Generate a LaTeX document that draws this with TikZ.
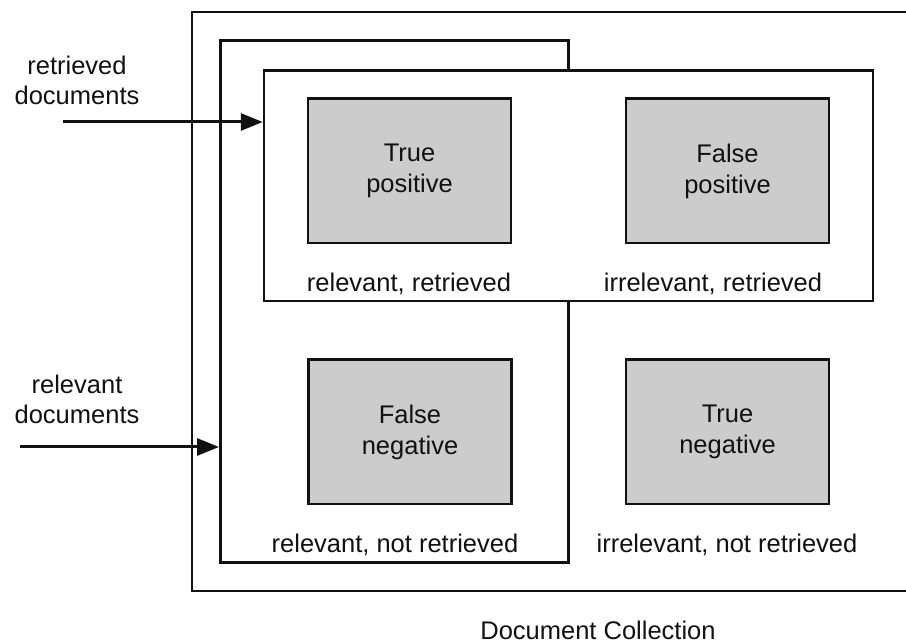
\documentclass[tikz,border=0pt]{standalone}
\usepackage{fontspec}
\setmainfont{Liberation Sans}
\usetikzlibrary{arrows.meta}
\definecolor{ink}{HTML}{111111}
\definecolor{cellgray}{HTML}{CCCCCC}
\begin{document}
\begin{tikzpicture}[x=1pt,y=-1pt,
  lbl/.style={font=\fontsize{25.5}{30}\selectfont, text=ink, inner sep=0pt, align=center},
  frame/.style={draw=ink, fill=white, rectangle, inner sep=0pt},
  cell/.style={draw=ink, fill=cellgray, line width=2.5pt, inner sep=0pt,
    minimum width=203pt, minimum height=144.5pt,
    font=\fontsize{25.5}{31}\selectfont, align=center, text=ink},
  arr/.style={draw=ink, line width=3pt, -{Triangle[length=22pt,width=17pt]}}
]
\useasboundingbox (0,0) rectangle (906,644);
\clip (0,0) rectangle (906,644);
% frames
\node[frame, line width=2pt, minimum width=740pt, minimum height=579pt] (coll) at (562,301.5) {};
\node[frame, line width=3pt, minimum width=347.5pt, minimum height=521pt] (rel) at (394.25,301.5) {};
\node[frame, line width=2.5pt, minimum width=609pt, minimum height=230.5pt] (ret) at (568.5,185.75) {};
% cells
\node[cell] (tp) at (409.5,171) {True\\positive};
\node[cell] (fp) at (727.5,171) {False\\positive};
\node[cell] (fn) at (410,432) {False\\negative};
\node[cell] (tn) at (727.5,432) {True\\negative};
% labels
\node[lbl, anchor=base] (tpl) at (409,292) {relevant, retrieved};
\node[lbl, anchor=base] (fpl) at (713,292) {irrelevant, retrieved};
\node[lbl, anchor=base] (fnl) at (395,552) {relevant, not retrieved};
\node[lbl, anchor=base] (tnl) at (727,552) {irrelevant, not retrieved};
\node[lbl, anchor=base] (dc) at (598,639) {Document Collection};
% left labels and arrows
\node[lbl] (retlab) at (77,80) {retrieved\\documents};
\node[lbl] (rellab) at (77,399) {relevant\\documents};
\coordinate (s1) at (63,122);
\coordinate (s2) at (20,447);
\draw[arr] (s1) -- (s1 -| ret.west);
\draw[arr] (s2) -- (s2 -| rel.west);
\end{tikzpicture}
\end{document}
